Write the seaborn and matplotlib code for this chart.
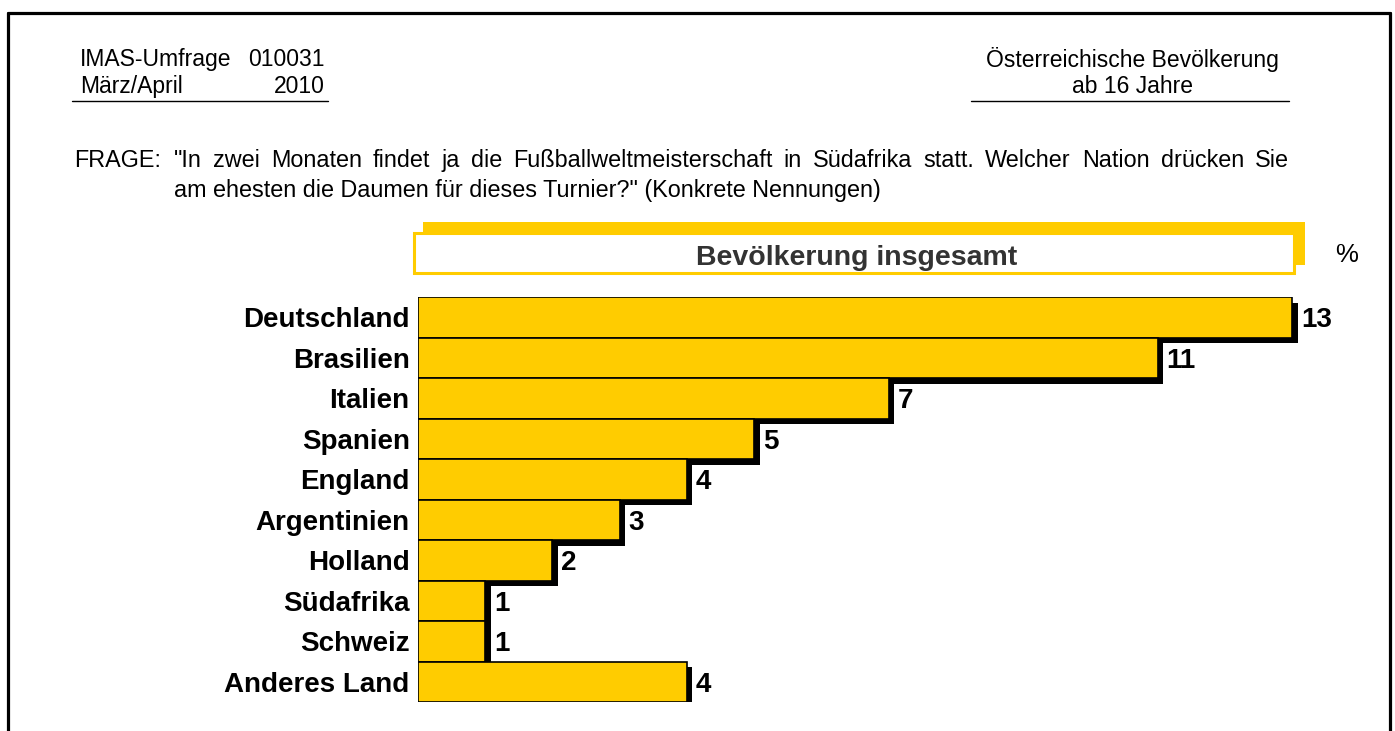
import matplotlib
matplotlib.use("Agg")
import matplotlib.pyplot as plt
import matplotlib.patheffects as pe
from matplotlib.patches import Rectangle
from matplotlib.lines import Line2D
import seaborn as sns

countries = ["Deutschland", "Brasilien", "Italien", "Spanien", "England",
             "Argentinien", "Holland", "Südafrika", "Schweiz", "Anderes Land"]
percent = [13, 11, 7, 5, 4, 3, 2, 1, 1, 4]

question_1 = ("\"In zwei Monaten findet ja die Fußballweltmeisterschaft in Südafrika statt. "
              "Welcher Nation drücken Sie")
question_2 = "am ehesten die Daumen für dieses Turnier?\" (Konkrete Nennungen)"

W, H = 1395, 731
YELLOW = "#FFCC00"

sns.set_style("white")
plt.rcParams["font.family"] = ["Liberation Sans", "DejaVu Sans"]
plt.rcParams["text.color"] = "black"

fig = plt.figure(figsize=(W / 100, H / 100), dpi=100)


def fx(x):
    return x / W


def fy(y):
    return 1 - y / H


def px_text(x, y, s, **kw):
    return fig.text(fx(x), fy(y), s, **kw)


# frame
for xs, ys in [([7.5, 7.5], [H, 12.5]), ([7.5, 1390], [12.5, 12.5]), ([1390, 1390], [12.5, H])]:
    fig.add_artist(Line2D([fx(x) for x in xs], [fy(y) for y in ys], color="black", lw=2.3))

# header
hdr = dict(fontsize=16.5, color="black", va="baseline")
px_text(80, 66, "IMAS-Umfrage", ha="left", **hdr)
px_text(325, 66, "010031", ha="right", **hdr)
px_text(80, 93, "März/April", ha="left", **hdr)
px_text(325, 93, "2010", ha="right", **hdr)
px_text(1132, 67, "Österreichische Bevölkerung", ha="center", **hdr)
px_text(1132, 93, "ab 16 Jahre", ha="center", **hdr)
fig.add_artist(Line2D([fx(72), fx(328)], [fy(101), fy(101)], color="black", lw=1))
fig.add_artist(Line2D([fx(971), fx(1289)], [fy(101), fy(101)], color="black", lw=1))

# question, first line justified between x=174 and x=1289
q = dict(fontsize=16.8, color="black", va="baseline", ha="left")
px_text(74, 167, "FRAGE:", **q)
renderer = fig.canvas.get_renderer()
words = question_1.split()
objs = [px_text(0, 167, w, **q) for w in words]
widths = [o.get_window_extent(renderer).width for o in objs]
gap = (1289 - 174 - sum(widths)) / (len(words) - 1)
x = 174
for o, w in zip(objs, widths):
    o.set_x(fx(x))
    x += w + gap
px_text(174, 197, question_2, **q)

# banner
fig.add_artist(Rectangle((fx(423), fy(265)), fx(1305 - 423), (265 - 222) / H,
                         facecolor=YELLOW, edgecolor=YELLOW, lw=0))
fig.add_artist(Rectangle((fx(414), fy(273)), fx(1294 - 414), (273 - 233) / H,
                         facecolor="white", edgecolor=YELLOW, lw=2.2))
px_text(857, 255, "Bevölkerung insgesamt", ha="center", va="center_baseline",
        fontsize=20.5, fontweight="bold", color="#333333")
px_text(1347, 252, "%", ha="center", va="center_baseline", fontsize=18.5, color="black")

# bars
unit = (1292 - 418) / 13
top, row = 297, 40.5
ax = fig.add_axes([fx(418), fy(top + row * len(countries)), fx(unit * 14), row * len(countries) / H])
sns.barplot(x=percent, y=countries, orient="h", color=YELLOW, saturation=1,
            edgecolor="black", linewidth=1.2, width=1, ax=ax)
for p in ax.patches:
    p.set_path_effects([pe.SimplePatchShadow(offset=(4, -4), shadow_rgbFace="black", alpha=1),
                        pe.Normal()])
for i, v in enumerate(percent):
    ax.annotate(str(v), (v, i), xytext=(6.5, 0),
                textcoords="offset points", va="center_baseline", ha="left",
                fontsize=20, fontweight="bold", color="black")

ax.set_xlim(0, 14)
ax.set_ylim(len(countries) - 0.5, -0.5)
ax.set_xticks([])
ax.tick_params(axis="y", length=0, pad=6, labelcolor="black")
for lbl in ax.get_yticklabels():
    lbl.set_fontsize(20)
    lbl.set_fontweight("bold")
ax.set_xlabel("")
ax.set_ylabel("")
for s in ax.spines.values():
    s.set_visible(False)
ax.patch.set_alpha(0)

fig.savefig("out.png", dpi=100)
